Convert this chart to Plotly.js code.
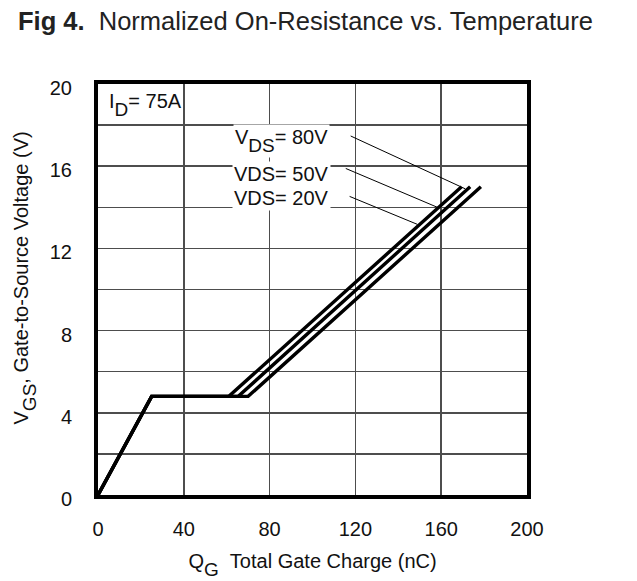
<!DOCTYPE html>
<html>
<head>
<meta charset="utf-8">
<script src="https://cdn.plot.ly/plotly-3.0.1.min.js"></script>
<style>html,body{margin:0;padding:0;background:#fff;}#chart{width:637px;height:581px;}</style>
</head>
<body>
<div id="chart"></div>
<script>
// Gate charge curves (Q_G in nC, V_GS in V)
const qg20 = [0, 25, 61, 169.5];
const vgs20 = [0, 4.8, 4.8, 15];
const qg50 = [0, 25, 65.4, 173.5];
const vgs50 = [0, 4.8, 4.8, 15];
const qg80 = [0, 25, 70, 178.5];
const vgs80 = [0, 4.8, 4.8, 15];

const SUB = (s) => '<sub><span style="font-size:19px;baseline-shift:-4px">' + s + '</span></sub>';

// Legend labels and their leader lines (label end -> curve end), data units
const labelTexts = ["V" + SUB("DS") + "= 80V", "VDS= 50V", "VDS= 20V"];
const labelX = [85.5, 85.5, 85.5];
const labelY = [17.25, 15.6, 14.45];
const leaderX0 = [117.8, 115.5, 117.3];
const leaderY0 = [17.47, 15.89, 14.53];
const leaderX1 = [171.2, 158.9, 148.9];
const leaderY1 = [14.9, 13.97, 13.17];

const xTicks = [0, 40, 80, 120, 160, 200];
const yTicks = [0, 4, 8, 12, 16, 20];

const FONT = "'Liberation Sans', Arial, Helvetica, sans-serif";

const lineStyle = {color: '#000', width: 3.4};
const traces = [
  {x: qg20, y: vgs20, mode: 'lines', line: lineStyle, name: 'VDS=20V', hoverinfo: 'skip'},
  {x: qg50, y: vgs50, mode: 'lines', line: lineStyle, name: 'VDS=50V', hoverinfo: 'skip'},
  {x: qg80, y: vgs80, mode: 'lines', line: lineStyle, name: 'VDS=80V', hoverinfo: 'skip'}
];

const shapes = leaderX0.map((x0, i) => ({
  type: 'line', xref: 'x', yref: 'y',
  x0: x0, y0: leaderY0[i], x1: leaderX1[i], y1: leaderY1[i],
  line: {color: '#000', width: 1}
}));

const annotations = labelTexts.map((t, i) => ({
  x: labelX[i], y: labelY[i], xref: 'x', yref: 'y',
  text: t, showarrow: false, xanchor: 'center', yanchor: 'middle',
  bgcolor: '#fff', borderpad: 1,
  font: {family: FONT, size: 20, color: '#111'}
}));
annotations.push({
  x: 4.2, y: 19.0, xref: 'x', yref: 'y', text: 'I' + SUB('D') + '= 75A',
  showarrow: false, xanchor: 'left', yanchor: 'middle',
  font: {family: FONT, size: 20, color: '#111'}
});
// y-axis title, placed as rotated annotation
annotations.push({
  x: -0.17, y: 0.527, xref: 'paper', yref: 'paper',
  text: 'V' + SUB('GS') + ', Gate-to-Source Voltage (V)', textangle: -90,
  showarrow: false, xanchor: 'center', yanchor: 'middle',
  font: {family: FONT, size: 20, color: '#111'}
});

const layout = {
  width: 637, height: 581,
  margin: {l: 98, r: 110, t: 84, b: 86},
  paper_bgcolor: '#fff', plot_bgcolor: '#fff',
  showlegend: false,
  font: {family: FONT, color: '#111'},
  title: {
    text: '<b>Fig 4.</b>  Normalized On-Resistance vs. Temperature',
    xref: 'container', yref: 'container', x: 18/637, xanchor: 'left',
    y: 1 - 21/581, yanchor: 'middle',
    font: {family: FONT, size: 25.5, color: '#222'}
  },
  xaxis: {
    range: [0, 200], tickvals: xTicks, ticktext: xTicks.map(String),
    showgrid: true, gridcolor: '#4d4d4d', gridwidth: 1.5,
    zeroline: false, showline: true, linecolor: '#000', linewidth: 4, mirror: true,
    ticks: '', ticklabelstandoff: 13,
    tickfont: {family: FONT, size: 20, color: '#111'},
    title: {text: 'Q' + SUB('G') + '\u00a0\u00a0Total Gate Charge (nC)', standoff: 16,
            font: {family: FONT, size: 20, color: '#111'}}
  },
  yaxis: {
    range: [0, 20], tickvals: yTicks, ticktext: yTicks.map(String),
    showgrid: true, gridcolor: '#4d4d4d', gridwidth: 1.5,
    minor: {dtick: 2, showgrid: true, gridcolor: '#4d4d4d', gridwidth: 1.5, ticks: ''},
    zeroline: false, showline: true, linecolor: '#000', linewidth: 4, mirror: true,
    ticks: '', ticklabelstandoff: 18, ticklabelshift: 4,
    tickfont: {family: FONT, size: 20, color: '#111'}
  },
  shapes: shapes,
  annotations: annotations
};

Plotly.newPlot('chart', traces, layout, {displayModeBar: false, staticPlot: true});
</script>
</body>
</html>
